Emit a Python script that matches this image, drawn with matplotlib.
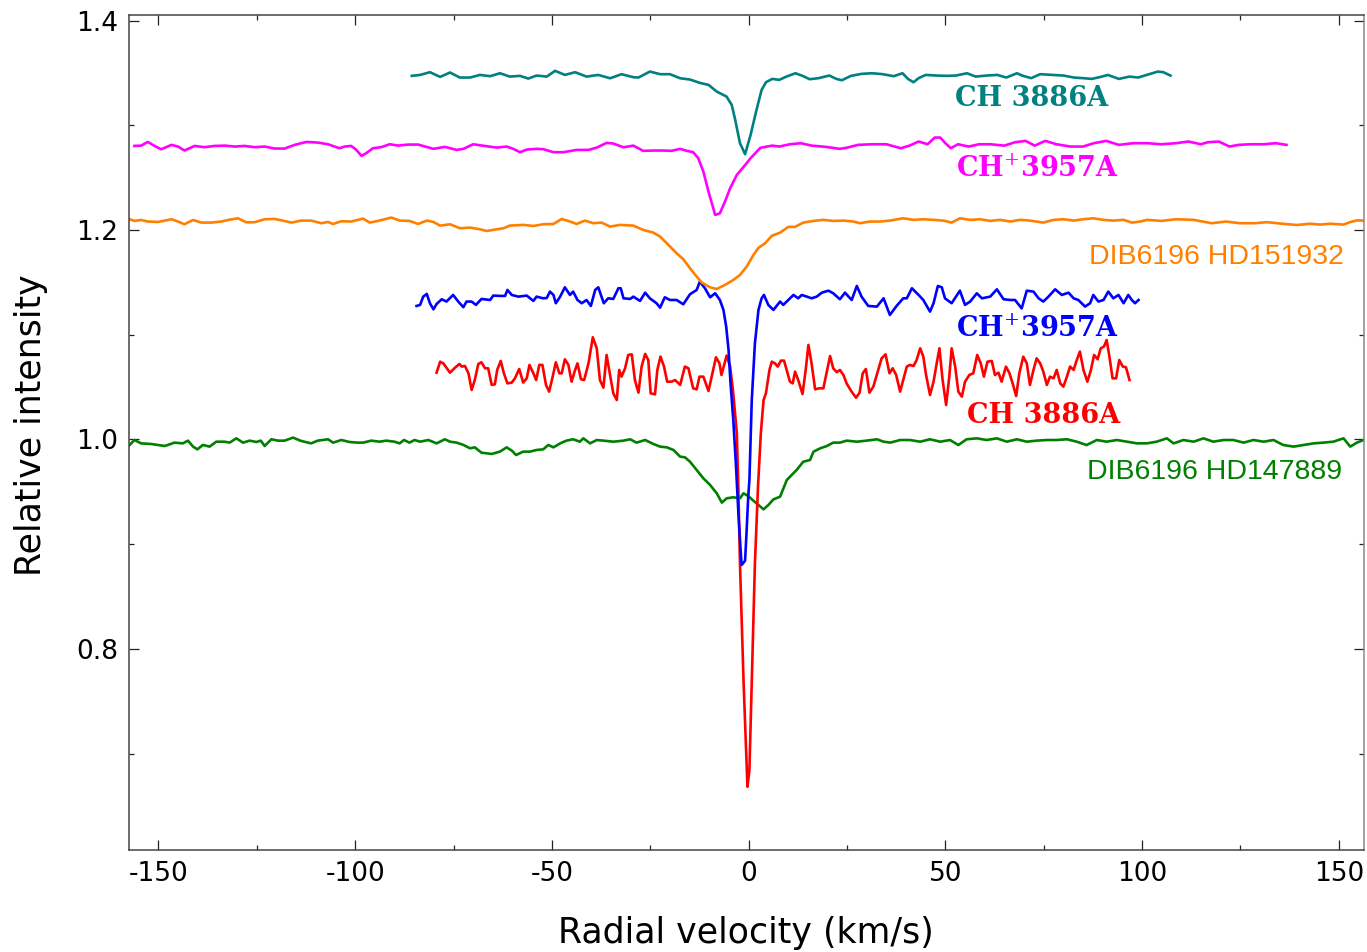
import matplotlib
matplotlib.use("Agg")
import matplotlib.pyplot as plt
from matplotlib.ticker import MultipleLocator

plt.rcParams['axes.unicode_minus'] = False
plt.rcParams['mathtext.fontset'] = 'dejavuserif'

# ---------------- data (radial velocity km/s, relative intensity) ----------------
teal_v = [-85.6, -83.5, -81.0, -78.4, -75.9, -73.4, -70.8, -68.3, -65.7, -63.2, -60.7, -58.1, -56.0,
          -53.9, -51.3, -49.2, -46.7, -44.1, -41.2, -38.2, -35.2, -32.3, -29.3, -28.0, -25.1, -22.5,
          -20.0, -17.4, -14.9, -12.4, -10.2, -8.1, -5.6, -4.3, -3.5, -2.2, -0.9, 0.5, 1.9, 3.3, 4.4,
          6.0, 7.8, 9.6, 11.9, 13.7, 15.5, 17.8, 20.5, 22.3, 23.7, 26.0, 28.7, 31.4, 34.1, 36.9, 39.1,
          40.5, 41.9, 43.2, 45.0, 47.8, 50.5, 52.7, 55.5, 57.7, 60.5, 63.2, 65.5, 68.2, 69.5, 71.8,
          74.1, 77.3, 80.0, 82.7, 85.0, 87.2, 89.5, 91.3, 94.1, 96.8, 99.0, 101.8, 104.0, 105.4, 107.2]
teal_i = [1.3472, 1.3481, 1.3507, 1.3462, 1.3504, 1.3456, 1.3456, 1.3481, 1.3469, 1.3497, 1.3465, 1.3472,
          1.3446, 1.3475, 1.3465, 1.3520, 1.3481, 1.3507, 1.3465, 1.3481, 1.3449, 1.3488, 1.3459, 1.3456,
          1.3513, 1.3488, 1.3488, 1.3449, 1.3437, 1.3405, 1.3386, 1.3322, 1.3274, 1.3195, 1.3068, 1.2829,
          1.2724, 1.2908, 1.3131, 1.3338, 1.3411, 1.3443, 1.3434, 1.3465, 1.3497, 1.3472, 1.3440, 1.3450,
          1.3475, 1.3443, 1.3430, 1.3472, 1.3491, 1.3497, 1.3488, 1.3469, 1.3497, 1.3443, 1.3411, 1.3450,
          1.3481, 1.3475, 1.3472, 1.3475, 1.3497, 1.3465, 1.3475, 1.3481, 1.3456, 1.3497, 1.3475, 1.3450,
          1.3488, 1.3481, 1.3475, 1.3456, 1.3450, 1.3443, 1.3462, 1.3481, 1.3443, 1.3465, 1.3456, 1.3488,
          1.3513, 1.3507, 1.3475]

magenta_v = [-156.1, -154.4, -152.7, -151.0, -149.3, -146.7, -145.0, -143.4, -140.8, -138.3, -135.7,
             -133.2, -130.6, -128.1, -125.6, -123.0, -120.5, -117.9, -115.4, -112.4, -109.5, -106.9,
             -104.0, -102.7, -101.0, -99.7, -98.4, -97.2, -95.5, -93.4, -91.2, -89.1, -86.6, -84.0,
             -80.1, -77.2, -74.2, -72.5, -70.0, -66.6, -64.0, -61.5, -59.8, -58.1, -56.4, -53.9, -52.2,
             -49.6, -47.1, -43.7, -40.7, -38.6, -36.1, -34.4, -31.8, -29.3, -26.8, -24.2, -21.7, -19.6,
             -17.4, -15.7, -14.1, -12.8, -11.5, -10.2, -8.5, -7.3, -6.0, -4.7, -3.0, -0.5, 0.5, 3.0,
             6.0, 7.8, 10.5, 13.3, 16.0, 19.6, 23.2, 25.1, 27.8, 31.4, 35.0, 38.7, 40.9, 43.2, 45.5,
             47.3, 48.7, 50.0, 51.4, 53.2, 55.9, 58.6, 61.4, 65.0, 67.7, 70.4, 72.7, 75.4, 78.2, 81.8,
             85.0, 87.7, 90.9, 94.1, 97.7, 101.3, 104.9, 108.6, 111.8, 114.9, 116.7, 119.5, 122.2,
             124.5, 127.6, 130.8, 134.0, 136.7]
magenta_i = [1.2803, 1.2806, 1.2841, 1.2803, 1.2771, 1.2813, 1.2797, 1.2759, 1.2803, 1.2791, 1.2803,
             1.2806, 1.2797, 1.2803, 1.2791, 1.2797, 1.2778, 1.2778, 1.2813, 1.2841, 1.2835, 1.2819,
             1.2781, 1.2797, 1.2803, 1.2765, 1.2708, 1.2733, 1.2781, 1.2791, 1.2819, 1.2806, 1.2816,
             1.2816, 1.2775, 1.2794, 1.2765, 1.2775, 1.2819, 1.2800, 1.2787, 1.2797, 1.2775, 1.2743,
             1.2768, 1.2775, 1.2772, 1.2743, 1.2743, 1.2765, 1.2765, 1.2787, 1.2832, 1.2826, 1.2790,
             1.2806, 1.2756, 1.2759, 1.2759, 1.2756, 1.2775, 1.2756, 1.2743, 1.2686, 1.2558, 1.2367,
             1.2144, 1.2160, 1.2272, 1.2399, 1.2526, 1.2638, 1.2686, 1.2785, 1.2806, 1.2797, 1.2819,
             1.2829, 1.2806, 1.2794, 1.2775, 1.2787, 1.2813, 1.2819, 1.2819, 1.2781, 1.2806, 1.2845,
             1.2819, 1.2883, 1.2883, 1.2829, 1.2781, 1.2819, 1.2797, 1.2819, 1.2819, 1.2806, 1.2838,
             1.2851, 1.2806, 1.2851, 1.2819, 1.2797, 1.2797, 1.2829, 1.2851, 1.2813, 1.2829, 1.2829,
             1.2819, 1.2829, 1.2845, 1.2819, 1.2838, 1.2845, 1.2797, 1.2813, 1.2819, 1.2819, 1.2829,
             1.2813]

orange_v = [-157.3, -156.1, -154.4, -152.7, -150.1, -146.7, -145.0, -143.4, -141.2, -139.1, -136.6,
            -134.0, -132.3, -129.8, -127.7, -125.6, -123.0, -120.5, -118.4, -116.2, -113.7, -111.2,
            -108.6, -106.9, -105.6, -103.5, -101.0, -98.0, -96.3, -94.2, -90.8, -88.7, -86.2, -84.0,
            -81.8, -80.1, -78.4, -75.9, -73.4, -70.8, -68.3, -66.6, -64.0, -62.3, -60.7, -57.3, -54.7,
            -52.2, -49.6, -47.5, -45.4, -43.7, -41.6, -39.5, -37.4, -35.2, -32.7, -29.3, -26.8, -24.2,
            -22.5, -20.8, -18.3, -16.6, -14.9, -13.2, -11.9, -9.8, -8.1, -6.0, -3.9, -2.2, -0.5, 1.2,
            2.5, 4.2, 5.9, 8.0, 10.1, 11.8, 13.9, 16.5, 19.0, 21.5, 24.1, 26.6, 28.3, 30.9, 33.4, 35.9,
            39.3, 41.9, 44.4, 47.0, 49.5, 51.6, 53.7, 56.3, 58.8, 61.4, 63.9, 66.5, 69.0, 71.5, 74.9,
            77.5, 80.0, 82.6, 85.1, 87.6, 90.2, 92.7, 95.3, 97.4, 99.5, 101.3, 104.9, 108.6, 113.1,
            117.7, 121.3, 124.9, 128.6, 131.7, 135.1, 139.3, 142.7, 145.3, 147.8, 151.2, 152.9, 154.6,
            156.3]
orange_i = [1.2103, 1.2087, 1.2096, 1.2081, 1.2077, 1.2103, 1.2081, 1.2055, 1.2096, 1.2071, 1.2071,
            1.2081, 1.2096, 1.2112, 1.2074, 1.2074, 1.2103, 1.2106, 1.2090, 1.2071, 1.2090, 1.2090,
            1.2065, 1.2077, 1.2058, 1.2084, 1.2081, 1.2109, 1.2071, 1.2087, 1.2119, 1.2090, 1.2087,
            1.2058, 1.2090, 1.2077, 1.2042, 1.2055, 1.2017, 1.2023, 1.2007, 1.1991, 1.2007, 1.2017,
            1.2042, 1.2049, 1.2039, 1.2055, 1.2058, 1.2106, 1.2081, 1.2058, 1.2090, 1.2065, 1.2071,
            1.2033, 1.2049, 1.2042, 1.2001, 1.1975, 1.1937, 1.1874, 1.1778, 1.1721, 1.1635, 1.1555,
            1.1498, 1.1453, 1.1437, 1.1476, 1.1523, 1.1571, 1.1651, 1.1760, 1.1830, 1.1874, 1.1945,
            1.1975, 1.2030, 1.2030, 1.2071, 1.2087, 1.2097, 1.2087, 1.2090, 1.2081, 1.2065, 1.2081,
            1.2081, 1.2090, 1.2112, 1.2097, 1.2103, 1.2097, 1.2090, 1.2071, 1.2112, 1.2097, 1.2103,
            1.2087, 1.2097, 1.2081, 1.2097, 1.2090, 1.2071, 1.2097, 1.2103, 1.2090, 1.2103, 1.2112,
            1.2097, 1.2090, 1.2097, 1.2071, 1.2081, 1.2097, 1.2087, 1.2103, 1.2097, 1.2065, 1.2081,
            1.2065, 1.2065, 1.2075, 1.2062, 1.2048, 1.2060, 1.2052, 1.2060, 1.2052, 1.2076, 1.2092,
            1.2090]

blue_v = [-84.4, -83.5, -82.7, -81.8, -81.0, -80.1, -79.3, -78.0, -76.8, -75.1, -73.8, -72.5, -71.7,
          -70.4, -69.3, -67.9, -65.7, -64.9, -63.2, -61.9, -61.3, -60.2, -58.5, -56.4, -54.7, -53.9,
          -52.2, -51.3, -50.5, -49.6, -49.0, -47.9, -46.7, -45.4, -44.6, -43.5, -42.4, -41.2, -40.1,
          -39.0, -38.2, -37.4, -36.8, -35.7, -34.4, -33.1, -32.5, -31.8, -30.1, -29.3, -27.6, -26.3,
          -25.1, -23.4, -22.5, -21.3, -20.0, -18.3, -16.6, -14.9, -13.2, -12.4, -11.1, -9.8, -8.5,
          -7.3, -6.4, -5.7, -5.1, -4.6, -3.9, -3.2, -2.6, -2.2, -1.8, -0.9, -0.5, -0.1, 0.2, 0.8, 1.6,
          2.5, 3.3, 3.9, 5.0, 6.3, 8.0, 8.8, 10.5, 11.4, 12.6, 13.5, 14.8, 16.0, 17.3, 18.6, 20.3,
          21.5, 23.2, 24.5, 25.4, 26.2, 27.5, 28.7, 30.4, 32.6, 34.3, 35.9, 37.6, 39.3, 40.2, 41.5,
          43.2, 44.4, 46.1, 47.0, 48.1, 49.1, 49.9, 51.6, 53.7, 55.0, 56.3, 58.0, 59.3, 61.4, 63.1,
          64.8, 66.5, 67.7, 69.4, 70.7, 72.4, 73.7, 74.9, 76.2, 77.9, 79.6, 81.3, 82.6, 83.8, 85.5,
          86.8, 87.6, 88.9, 90.2, 91.4, 92.7, 94.0, 95.3, 96.5, 97.4, 98.2, 99.1]
blue_i = [1.1275, 1.1285, 1.1364, 1.1390, 1.1301, 1.1243, 1.1294, 1.1339, 1.1317, 1.1380, 1.1317,
          1.1263, 1.1317, 1.1317, 1.1285, 1.1342, 1.1332, 1.1374, 1.1371, 1.1371, 1.1428, 1.1380,
          1.1364, 1.1374, 1.1323, 1.1364, 1.1348, 1.1351, 1.1412, 1.1380, 1.1301, 1.1364, 1.1453,
          1.1380, 1.1412, 1.1332, 1.1301, 1.1332, 1.1275, 1.1428, 1.1453, 1.1364, 1.1301, 1.1348,
          1.1342, 1.1444, 1.1444, 1.1348, 1.1342, 1.1364, 1.1323, 1.1402, 1.1348, 1.1301, 1.1259,
          1.1358, 1.1332, 1.1332, 1.1291, 1.1387, 1.1428, 1.1507, 1.1444, 1.1358, 1.1396, 1.1332,
          1.1237, 1.1078, 1.0855, 1.0537, 1.0187, 0.9741, 0.9295, 0.9040, 0.8801, 0.8843, 0.9136,
          0.9454, 0.9613, 1.0377, 1.0918, 1.1237, 1.1348, 1.1380, 1.1285, 1.1237, 1.1317, 1.1285,
          1.1348, 1.1380, 1.1348, 1.1380, 1.1364, 1.1348, 1.1364, 1.1402, 1.1421, 1.1396, 1.1339,
          1.1402, 1.1364, 1.1332, 1.1466, 1.1364, 1.1275, 1.1269, 1.1348, 1.1189, 1.1275, 1.1348,
          1.1348, 1.1444, 1.1380, 1.1332, 1.1221, 1.1301, 1.1466, 1.1453, 1.1348, 1.1301, 1.1421,
          1.1285, 1.1317, 1.1396, 1.1348, 1.1364, 1.1434, 1.1339, 1.1332, 1.1332, 1.1252, 1.1421,
          1.1412, 1.1348, 1.1317, 1.1364, 1.1434, 1.1380, 1.1402, 1.1348, 1.1332, 1.1269, 1.1301,
          1.1380, 1.1317, 1.1332, 1.1412, 1.1348, 1.1380, 1.1301, 1.1380, 1.1332, 1.1301, 1.1332]

red_v = [-79.3, -78.4, -77.6, -75.9, -74.6, -73.5, -72.9, -72.1, -71.2, -70.4, -69.6, -68.7, -67.9,
         -67.0, -66.2, -65.3, -64.5, -63.9, -63.0, -62.2, -61.3, -60.2, -59.4, -58.3, -57.3, -56.4,
         -55.7, -54.7, -54.0, -53.2, -52.4, -51.5, -50.7, -49.8, -49.0, -48.1, -47.5, -46.7, -45.8,
         -45.0, -44.1, -43.5, -42.6, -41.8, -40.7, -39.6, -38.6, -37.8, -36.9, -36.1, -35.2, -34.4,
         -33.5, -32.9, -32.3, -31.4, -30.6, -29.7, -28.9, -28.0, -27.2, -26.3, -25.5, -24.9, -23.8,
         -23.2, -22.4, -21.5, -20.7, -19.6, -18.7, -17.4, -16.2, -15.3, -14.1, -13.2, -12.5, -11.5,
         -10.2, -9.4, -8.3, -7.4, -6.9, -5.6, -4.7, -3.9, -3.0, -2.6, -2.2, -1.3, -0.3, 0.2, 0.8,
         1.6, 2.4, 3.1, 3.8, 4.4, 5.3, 5.9, 6.7, 7.4, 8.2, 9.0, 9.9, 10.5, 11.2, 11.8, 12.6, 13.7,
         14.5, 15.2, 16.0, 16.9, 18.0, 19.0, 19.8, 20.7, 21.5, 22.4, 23.2, 24.1, 24.9, 26.0, 27.3,
         28.2, 29.0, 29.8, 30.7, 31.7, 32.7, 33.8, 34.8, 35.8, 36.6, 37.5, 38.5, 39.3, 40.2, 41.0,
         41.9, 42.7, 43.6, 44.4, 45.1, 46.1, 47.0, 47.8, 48.5, 49.3, 50.2, 51.0, 51.6, 52.5, 53.3,
         54.2, 55.0, 56.1, 57.1, 58.1, 59.0, 59.8, 60.7, 61.8, 62.6, 63.5, 64.3, 65.4, 66.3, 67.1,
         68.0, 68.8, 69.8, 70.7, 71.5, 72.4, 73.2, 74.1, 74.9, 75.8, 76.6, 77.5, 78.3, 79.2, 80.0,
         80.9, 81.7, 82.6, 83.4, 84.2, 85.1, 86.1, 87.0, 87.8, 88.7, 89.5, 90.3, 91.0, 91.7, 92.5,
         93.4, 94.2, 95.1, 95.9, 96.8]
red_i = [1.0638, 1.0743, 1.0727, 1.0638, 1.0686, 1.0721, 1.0696, 1.0702, 1.0632, 1.0473, 1.0568,
         1.0721, 1.0737, 1.0680, 1.0680, 1.0521, 1.0527, 1.0664, 1.0750, 1.0632, 1.0536, 1.0543,
         1.0584, 1.0673, 1.0543, 1.0584, 1.0712, 1.0632, 1.0568, 1.0712, 1.0712, 1.0521, 1.0457,
         1.0600, 1.0737, 1.0632, 1.0632, 1.0766, 1.0712, 1.0552, 1.0664, 1.0727, 1.0575, 1.0568,
         1.0727, 1.0976, 1.0871, 1.0568, 1.0495, 1.0807, 1.0616, 1.0441, 1.0377, 1.0664, 1.0600,
         1.0680, 1.0807, 1.0813, 1.0568, 1.0447, 1.0696, 1.0817, 1.0759, 1.0441, 1.0431, 1.0664,
         1.0791, 1.0696, 1.0552, 1.0552, 1.0568, 1.0521, 1.0696, 1.0680, 1.0489, 1.0479, 1.0600,
         1.0600, 1.0463, 1.0600, 1.0785, 1.0727, 1.0616, 1.0801, 1.0696, 1.0441, 1.0059, 0.9518,
         0.8817, 0.7703, 0.6684, 0.6843, 0.7703, 0.8817, 0.9560, 1.0059, 1.0377, 1.0441, 1.0664,
         1.0743, 1.0727, 1.0696, 1.0753, 1.0753, 1.0632, 1.0552, 1.0536, 1.0648, 1.0568, 1.0434,
         1.0664, 1.0903, 1.0727, 1.0479, 1.0489, 1.0489, 1.0632, 1.0797, 1.0680, 1.0642, 1.0664,
         1.0616, 1.0536, 1.0466, 1.0399, 1.0447, 1.0632, 1.0673, 1.0447, 1.0505, 1.0632, 1.0775,
         1.0813, 1.0632, 1.0680, 1.0616, 1.0457, 1.0568, 1.0696, 1.0712, 1.0702, 1.0759, 1.0871,
         1.0791, 1.0616, 1.0425, 1.0552, 1.0727, 1.0871, 1.0568, 1.0329, 1.0600, 1.0871, 1.0696,
         1.0457, 1.0409, 1.0552, 1.0616, 1.0632, 1.0807, 1.0727, 1.0600, 1.0743, 1.0750, 1.0616,
         1.0638, 1.0552, 1.0696, 1.0632, 1.0536, 1.0415, 1.0632, 1.0791, 1.0727, 1.0521, 1.0664,
         1.0775, 1.0727, 1.0648, 1.0521, 1.0600, 1.0584, 1.0664, 1.0536, 1.0505, 1.0600, 1.0696,
         1.0664, 1.0759, 1.0839, 1.0664, 1.0552, 1.0664, 1.0807, 1.0766, 1.0871, 1.0887, 1.0950,
         1.0791, 1.0584, 1.0584, 1.0759, 1.0696, 1.0690, 1.0568]

green_v = [-157.3, -156.1, -154.4, -151.8, -150.1, -148.4, -145.9, -143.8, -142.5, -141.2, -140.1,
           -138.7, -137.0, -135.3, -133.2, -131.9, -130.2, -128.5, -126.8, -125.1, -124.0, -123.0,
           -121.3, -119.6, -117.9, -115.8, -113.7, -111.2, -109.5, -106.9, -105.6, -103.5, -101.4,
           -99.3, -98.0, -95.9, -93.8, -92.1, -90.0, -88.7, -87.6, -86.2, -84.9, -83.5, -81.4, -79.3,
           -77.2, -75.9, -74.2, -72.5, -70.8, -69.6, -67.9, -65.3, -63.2, -61.5, -60.2, -59.1, -57.3,
           -55.6, -53.9, -52.2, -50.9, -49.6, -47.9, -46.3, -44.6, -42.9, -42.0, -40.3, -38.6, -36.9,
           -34.4, -31.8, -30.1, -28.5, -26.3, -24.2, -22.5, -20.8, -19.1, -17.4, -16.2, -14.9, -13.2,
           -11.5, -9.8, -8.1, -6.8, -5.6, -3.9, -2.2, -1.3, -0.1, 1.2, 2.5, 3.8, 5.0, 6.3, 8.0, 9.7,
           12.2, 13.9, 15.6, 16.5, 18.2, 19.9, 21.5, 23.2, 24.9, 27.5, 30.0, 32.6, 34.3, 36.0, 38.5,
           41.0, 43.6, 46.1, 48.7, 51.2, 53.3, 55.4, 58.0, 60.5, 63.1, 65.6, 68.2, 70.7, 73.2, 75.8,
           78.3, 80.9, 83.4, 85.9, 88.5, 91.0, 93.6, 96.1, 98.7, 101.2, 103.7, 106.3, 108.0, 110.5,
           113.1, 115.6, 118.1, 120.7, 123.2, 125.8, 128.3, 130.9, 133.4, 135.9, 138.5, 141.0, 143.6,
           146.1, 148.6, 151.2, 152.9, 154.6, 156.3]
green_i = [0.9948, 0.9995, 0.9963, 0.9957, 0.9948, 0.9938, 0.9970, 0.9963, 0.9989, 0.9932, 0.9906,
           0.9948, 0.9932, 0.9979, 0.9979, 0.9970, 1.0011, 0.9970, 0.9989, 0.9976, 0.9989, 0.9938,
           1.0002, 0.9989, 0.9989, 1.0018, 0.9986, 0.9963, 0.9989, 1.0002, 0.9970, 0.9995, 0.9976,
           0.9970, 0.9970, 0.9989, 0.9979, 0.9989, 0.9979, 0.9963, 0.9995, 0.9970, 0.9995, 0.9979,
           0.9995, 0.9963, 1.0002, 0.9979, 0.9970, 0.9948, 0.9916, 0.9925, 0.9874, 0.9862, 0.9884,
           0.9925, 0.9894, 0.9852, 0.9884, 0.9884, 0.9900, 0.9906, 0.9948, 0.9925, 0.9963, 0.9989,
           1.0002, 0.9979, 1.0011, 0.9963, 0.9995, 0.9989, 0.9979, 0.9989, 1.0002, 0.9970, 0.9995,
           0.9957, 0.9932, 0.9925, 0.9900, 0.9836, 0.9830, 0.9788, 0.9709, 0.9629, 0.9566, 0.9486,
           0.9397, 0.9438, 0.9448, 0.9438, 0.9486, 0.9460, 0.9416, 0.9374, 0.9333, 0.9374, 0.9428,
           0.9454, 0.9613, 0.9709, 0.9788, 0.9804, 0.9884, 0.9916, 0.9938, 0.9970, 0.9970, 0.9989,
           0.9979, 0.9989, 1.0002, 0.9979, 0.9970, 0.9995, 0.9995, 0.9979, 1.0002, 0.9979, 0.9995,
           0.9947, 1.0002, 1.0011, 0.9995, 1.0011, 0.9979, 1.0002, 0.9979, 0.9989, 0.9995, 0.9995,
           1.0002, 0.9979, 0.9947, 0.9995, 0.9979, 0.9995, 0.9979, 0.9963, 0.9963, 0.9979, 1.0011,
           0.9963, 0.9995, 0.9979, 1.0011, 0.9979, 0.9995, 0.9995, 0.9970, 0.9995, 0.9979, 0.9995,
           0.9947, 0.9932, 0.9947, 0.9963, 0.9970, 0.9979, 1.0011, 0.9932, 0.9970, 0.9995]

labels = [
    # text, colour, x, y(baseline), family, weight, size
    ("CH 3886A", "#008080", 52.5, 1.3185, "DejaVu Serif", "bold", 19.5),
    ("CH$^{+}$3957A", "#ff00ff", 52.7, 1.2504, "DejaVu Serif", "bold", 19.5),
    ("DIB6196 HD151932", "#ff8000", 86.6, 1.1676, "Liberation Sans", "normal", 20.5),
    ("CH$^{+}$3957A", "#0000ff", 52.7, 1.0982, "DejaVu Serif", "bold", 19.5),
    ("CH 3886A", "#ff0000", 55.4, 1.0155, "DejaVu Serif", "bold", 19.5),
    ("DIB6196 HD147889", "#008000", 85.9, 0.9620, "Liberation Sans", "normal", 20.5),
]

x_ticks = [-150, -100, -50, 0, 50, 100, 150]
y_ticks = [0.8, 1.0, 1.2, 1.4]

# ---------------- figure ----------------
fig = plt.figure(figsize=(13.67, 9.52), dpi=100)
ax = fig.add_axes([0.0946, 0.1071, 0.9032, 0.8768])

series = [
    (green_v, green_i, "#008000"),
    (red_v, red_i, "#ff0000"),
    (blue_v, blue_i, "#0000ff"),
    (orange_v, orange_i, "#ff8000"),
    (magenta_v, magenta_i, "#ff00ff"),
    (teal_v, teal_i, "#008080"),
]
for v, i, c in series:
    ax.plot(v, i, color=c, lw=1.9, solid_joinstyle='round')

for txt, c, x, y, fam, w, fs in labels:
    ax.text(x, y, txt, color=c, fontsize=fs, family=fam, fontweight=w,
            ha='left', va='baseline')

ax.set_xlim(-157.4, 156.4)
ax.set_ylim(0.608, 1.405)
ax.set_xticks(x_ticks)
ax.set_xticklabels([str(t) for t in x_ticks])
ax.set_yticks(y_ticks)
ax.set_yticklabels(["%.1f" % t for t in y_ticks])
ax.xaxis.set_minor_locator(MultipleLocator(25))
ax.yaxis.set_minor_locator(MultipleLocator(0.1))

ax.tick_params(which='both', direction='in', top=True, right=True, width=0.9, color='#222222')
ax.tick_params(which='major', length=7, labelsize=19, pad=8)
ax.tick_params(which='minor', length=3.5)

for s in ['left', 'bottom', 'top']:
    ax.spines[s].set_color('#444444')
    ax.spines[s].set_linewidth(1.1)
ax.spines['right'].set_color('#888888')
ax.spines['right'].set_linewidth(1.1)

fig.text(746 / 1367, 1 - 933 / 952, "Radial velocity (km/s)", fontsize=25,
         ha='center', va='center')
fig.text(31 / 1367, 1 - 425 / 952, "Relative intensity", fontsize=25,
         ha='center', va='center', rotation=90)

fig.savefig("out.png", dpi=100)
